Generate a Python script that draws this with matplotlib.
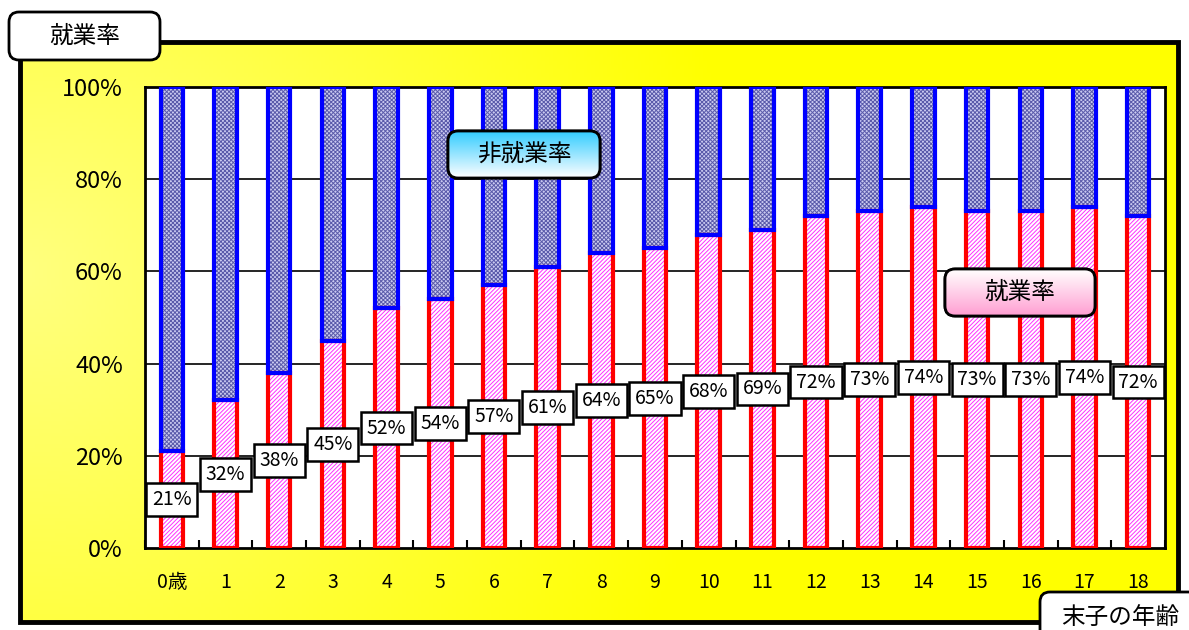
import matplotlib.pyplot as plt
import matplotlib.patches as patches
import numpy as np

plt.rcParams['font.family'] = ['Noto Sans CJK JP', 'DejaVu Sans']
plt.rcParams['hatch.linewidth'] = 0.7

ages = ['0歳'] + [str(i) for i in range(1, 19)]
employment_rate = [21, 32, 38, 45, 52, 54, 57, 61, 64, 65, 68, 69, 72, 73, 74, 73, 73, 74, 72]
y_ticks = [0, 20, 40, 60, 80, 100]

W, H = 1189, 630
fig = plt.figure(figsize=(W / 100, H / 100), dpi=100)

# background layer in pixel coordinates
bg = fig.add_axes([0, 0, 1, 1])
bg.set_xlim(0, W)
bg.set_ylim(H, 0)
bg.axis('off')

# yellow panel with soft light patch at the left
gx = np.linspace(0, 1, 300)
gy = np.linspace(0, 1, 150)
GX, GY = np.meshgrid(gx, gy)
glow = np.clip(1 - np.hypot((GX - 0.0) * 1.6, (GY - 0.4) * 0.8), 0, 1) * 0.5
img = np.zeros((150, 300, 3))
img[..., 0] = 1
img[..., 1] = 1
img[..., 2] = glow
bg.imshow(img, extent=(20, 1178, 622, 42), aspect='auto', zorder=1)
bg.add_patch(patches.Rectangle((20, 42), 1158, 580, fill=False, edgecolor='black',
                               linewidth=3.5, zorder=2))

# main chart
ax = fig.add_axes([145 / W, 1 - 548 / H, 1020 / W, 461 / H])
x = np.arange(len(ages))
emp = np.array(employment_rate)
non_emp = 100 - emp
bw = 0.42

ax.bar(x, emp, width=bw, color='white', hatch='////////', edgecolor='#ff30ff', linewidth=0, zorder=3)
ax.bar(x, emp, width=bw, fill=False, edgecolor='red', linewidth=3, zorder=4)
ax.bar(x, non_emp, bottom=emp, width=bw, color='#cacaf0', hatch='xxxxxxxx', edgecolor='#5a5aaa',
       linewidth=0, zorder=3)
ax.bar(x, non_emp, bottom=emp, width=bw, fill=False, edgecolor='#0000ff', linewidth=3, zorder=4)

for xi, v in zip(x, emp):
    ax.text(xi, v / 2, f'{v}%', ha='center', va='center', fontsize=14, zorder=6,
            bbox=dict(boxstyle='square,pad=0.3', facecolor='white', edgecolor='black', linewidth=1.8))

ax.set_xlim(-0.5, len(ages) - 0.5)
ax.set_ylim(0, 100)
ax.set_yticks(y_ticks)
ax.set_yticklabels([f'{t}%' for t in y_ticks], fontsize=17)
ax.set_xticks(x)
ax.set_xticklabels(ages, fontsize=14)
ax.set_xticks(np.arange(-0.5, len(ages), 1), minor=True)
ax.tick_params(axis='x', which='major', length=0, pad=17)
ax.tick_params(axis='x', which='minor', direction='in', length=6, width=1.5)
ax.tick_params(axis='y', length=0, pad=16)
for t in y_ticks[1:-1]:
    ax.axhline(t, color='black', linewidth=1.2, zorder=2)
for s in ax.spines.values():
    s.set_linewidth(2)
ax.set_facecolor('white')

# overlay for boxes on top of the chart
ov = fig.add_axes([0, 0, 1, 1], zorder=10)
ov.set_xlim(0, W)
ov.set_ylim(H, 0)
ov.axis('off')
ov.patch.set_alpha(0)


def label_box(x0, y0, w, h, text, top_color=None, bottom_color=None, fontsize=17):
    box = patches.FancyBboxPatch((x0, y0), w, h, boxstyle='round,pad=0,rounding_size=10',
                                 facecolor='white', edgecolor='black', linewidth=2, zorder=11)
    ov.add_patch(box)
    if top_color is not None:
        t = np.linspace(0, 1, 64)[:, None]
        c0 = np.array(top_color)
        c1 = np.array(bottom_color)
        grad = (c0[None, None, :] * (1 - t[..., None]) + c1[None, None, :] * t[..., None])
        grad = np.repeat(grad, 4, axis=1)
        im = ov.imshow(grad, extent=(x0, x0 + w, y0 + h, y0), aspect='auto', zorder=11.5)
        im.set_clip_path(box)
        ov.add_patch(patches.FancyBboxPatch((x0, y0), w, h, boxstyle='round,pad=0,rounding_size=10',
                                            fill=False, edgecolor='black', linewidth=2, zorder=12))
    ov.text(x0 + w / 2, y0 + h / 2, text, ha='center', va='center', fontsize=fontsize, zorder=13)


label_box(448, 131, 152, 47, '非就業率', (0.2, 0.8, 1.0), (1.0, 1.0, 1.0))
label_box(945, 269, 150, 47, '就業率', (1.0, 1.0, 1.0), (1.0, 0.62, 0.82))
label_box(9, 12, 151, 48, '就業率')
label_box(1040, 592, 160, 50, '末子の年齢')

ov.set_xlim(0, W)
ov.set_ylim(H, 0)

fig.savefig('out.png', dpi=100)
